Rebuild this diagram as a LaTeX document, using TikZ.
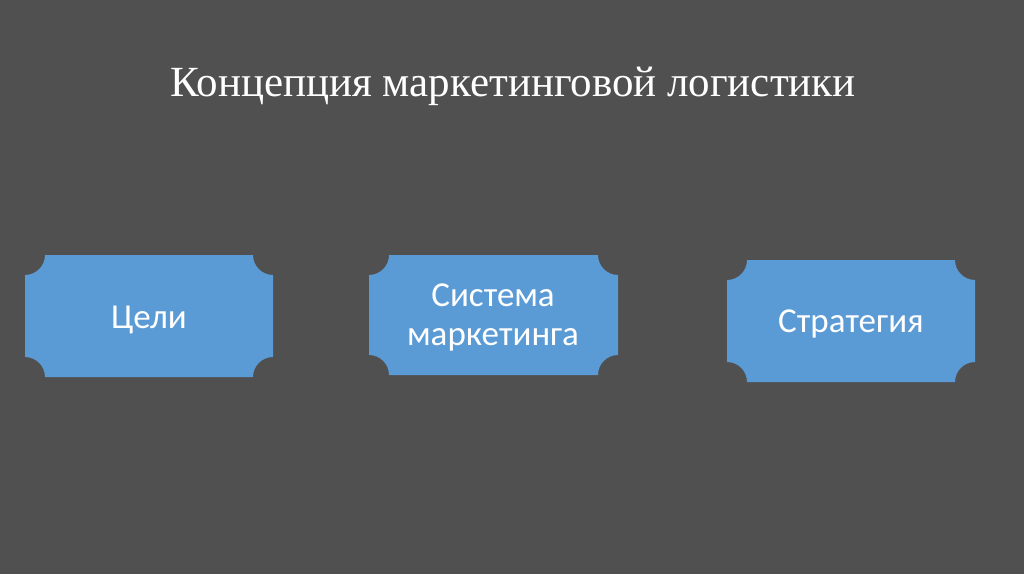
\documentclass[tikz,border=0pt]{standalone}
\usepackage{fontspec}
\setmainfont{Liberation Serif}
\newfontfamily\boxfont{Carlito}
\definecolor{bg}{HTML}{505050}
\definecolor{boxblue}{HTML}{5B9BD5}
\tikzset{
  x=1pt,y=1pt,
  plaquestyle/.style={fill=boxblue},
  boxtext/.style={text=white,font=\boxfont\fontsize{35}{39}\selectfont,align=center,inner sep=0pt},
  titletext/.style={text=white,font=\fontsize{43}{47}\selectfont,inner sep=0pt}
}
\newcommand{\myplaque}[5]{% x1 y1 x2 y2 r  (y-up)
  \fill[plaquestyle] (#1+#5,#4) -- (#3-#5,#4) arc[start angle=180,end angle=270,radius=#5]
    -- (#3,#2+#5) arc[start angle=90,end angle=180,radius=#5]
    -- (#1+#5,#2) arc[start angle=0,end angle=90,radius=#5]
    -- (#1,#4-#5) arc[start angle=270,end angle=360,radius=#5] -- cycle;}
\begin{document}
\begin{tikzpicture}
\fill[bg] (0,0) rectangle (1024,574);
\useasboundingbox (0,0) rectangle (1024,574);
\node[titletext,anchor=base] (title) at (513,477) {Концепция маркетинговой логистики};
\myplaque{25}{197}{273}{319}{20}
\myplaque{369}{199}{618}{319}{20}
\myplaque{727}{192}{975}{314}{20}
\node[boxtext,anchor=base] (goals) at (149,246) {Цели};
\node[boxtext] (system) at (493,257) {Система\\маркетинга};
\node[boxtext,anchor=base] (strategy) at (851,242) {Стратегия};
\end{tikzpicture}
\end{document}
